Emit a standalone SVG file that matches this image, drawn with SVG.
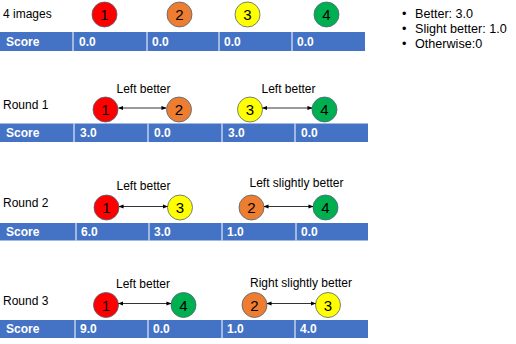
<svg xmlns="http://www.w3.org/2000/svg" width="516" height="344" viewBox="0 0 516 344">
<style>
text{font-family:"Liberation Sans",Arial,sans-serif;fill:#000}
.lbl{font-size:12px}
.leg{font-size:12.6px}
.num{font-size:15px;text-anchor:middle}
.c{stroke:#4d6277;stroke-width:0.8}
.red{fill:#ff0000}.org{fill:#ed7d31}.yel{fill:#ffff00}.grn{fill:#00b050}
.bar{fill:#4472c4}
.div{stroke:#ffffff;stroke-width:1}
.st{font-size:12px;font-weight:bold;fill:#ffffff}
.ed{font-size:12px;text-anchor:middle}
.arr{stroke:#000;stroke-width:0.8;fill:none;marker-start:url(#ah);marker-end:url(#ah)}
</style>
<defs>
<marker id="ah" viewBox="0 0 6 6" refX="5.5" refY="3" markerWidth="5" markerHeight="5" orient="auto-start-reverse" markerUnits="userSpaceOnUse">
<path d="M0,0.5 L6,3 L0,5.5 Z" fill="#000"/>
</marker>
</defs>
<rect width="516" height="344" fill="#ffffff"/>

<g id="legend">
<text class="leg" x="402" y="18">•</text><text class="leg" x="415" y="18">Better: 3.0</text>
<text class="leg" x="402" y="33">•</text><text class="leg" x="415" y="33">Slight better: 1.0</text>
<text class="leg" x="402" y="47.5">•</text><text class="leg" x="415" y="47.5">Otherwise:0</text>
</g>

<g id="row0">
<text class="lbl" x="3" y="17.5">4 images</text>
<g id="r0n1"><circle class="c red" cx="104.5" cy="14.5" r="12.5"/><text class="num" x="104.5" y="20">1</text></g>
<g id="r0n2"><circle class="c org" cx="179.5" cy="14.5" r="12.5"/><text class="num" x="179.5" y="20">2</text></g>
<g id="r0n3"><circle class="c yel" cx="247.5" cy="14.5" r="12.5"/><text class="num" x="247.5" y="20">3</text></g>
<g id="r0n4"><circle class="c grn" cx="326.5" cy="14.5" r="12.5"/><text class="num" x="326.5" y="20">4</text></g>
<g id="r0table">
<rect class="bar" x="0" y="32" width="365" height="19"/>
<line class="div" x1="73" y1="32" x2="73" y2="51"/><line class="div" x1="147" y1="32" x2="147" y2="51"/><line class="div" x1="219" y1="32" x2="219" y2="51"/><line class="div" x1="292" y1="32" x2="292" y2="51"/>
<text class="st" x="6" y="45.5">Score</text><text class="st" x="79" y="45.5">0.0</text><text class="st" x="152" y="45.5">0.0</text><text class="st" x="224" y="45.5">0.0</text><text class="st" x="297" y="45.5">0.0</text>
</g>
</g>

<g id="row1">
<text class="lbl" x="3" y="109">Round 1</text>
<g id="r1n1"><circle class="c red" cx="105.5" cy="109.5" r="12.5"/><text class="num" x="105.5" y="115">1</text></g>
<g id="r1n2"><circle class="c org" cx="179" cy="109.5" r="12.5"/><text class="num" x="179" y="115">2</text></g>
<g id="r1n3"><circle class="c yel" cx="250" cy="109.5" r="12.5"/><text class="num" x="250" y="115">3</text></g>
<g id="r1n4"><circle class="c grn" cx="324.5" cy="109.5" r="12.5"/><text class="num" x="324.5" y="115">4</text></g>
<text class="ed" x="143.5" y="93">Left better</text>
<text class="ed" x="288.5" y="93">Left better</text>
<g id="r1table">
<rect class="bar" x="0" y="123.5" width="368" height="18.5"/>
<line class="div" x1="74" y1="123.5" x2="74" y2="142"/><line class="div" x1="148" y1="123.5" x2="148" y2="142"/><line class="div" x1="222" y1="123.5" x2="222" y2="142"/><line class="div" x1="295" y1="123.5" x2="295" y2="142"/>
<text class="st" x="6" y="137">Score</text><text class="st" x="80" y="137">3.0</text><text class="st" x="154" y="137">0.0</text><text class="st" x="228" y="137">3.0</text><text class="st" x="301" y="137">0.0</text>
</g>
</g>

<g id="row2">
<text class="lbl" x="3" y="207">Round 2</text>
<g id="r2n1"><circle class="c red" cx="106.5" cy="207.5" r="12.5"/><text class="num" x="106.5" y="213">1</text></g>
<g id="r2n3"><circle class="c yel" cx="180" cy="207.5" r="12.5"/><text class="num" x="180" y="213">3</text></g>
<g id="r2n2"><circle class="c org" cx="251.5" cy="207.5" r="12.5"/><text class="num" x="251.5" y="213">2</text></g>
<g id="r2n4"><circle class="c grn" cx="325.5" cy="207.5" r="12.5"/><text class="num" x="325.5" y="213">4</text></g>
<text class="ed" x="143.5" y="190">Left better</text>
<text class="ed" x="296.5" y="187">Left slightly better</text>
<g id="r2table">
<rect class="bar" x="0" y="223" width="368" height="17.5"/>
<line class="div" x1="76" y1="223" x2="76" y2="240.5"/><line class="div" x1="149" y1="223" x2="149" y2="240.5"/><line class="div" x1="222" y1="223" x2="222" y2="240.5"/><line class="div" x1="296" y1="223" x2="296" y2="240.5"/>
<text class="st" x="6" y="236">Score</text><text class="st" x="81" y="236">6.0</text><text class="st" x="154" y="236">3.0</text><text class="st" x="227" y="236">1.0</text><text class="st" x="301" y="236">0.0</text>
</g>
</g>

<g id="row3">
<text class="lbl" x="3" y="305">Round 3</text>
<g id="r3n1"><circle class="c red" cx="106" cy="305" r="12.5"/><text class="num" x="106" y="310.5">1</text></g>
<g id="r3n4"><circle class="c grn" cx="183.5" cy="305" r="12.5"/><text class="num" x="183.5" y="310.5">4</text></g>
<g id="r3n2"><circle class="c org" cx="254.5" cy="305" r="12.5"/><text class="num" x="254.5" y="310.5">2</text></g>
<g id="r3n3"><circle class="c yel" cx="328" cy="305" r="12.5"/><text class="num" x="328" y="310.5">3</text></g>
<text class="ed" x="143" y="288">Left better</text>
<text class="ed" x="301" y="287">Right slightly better</text>
<g id="r3table">
<rect class="bar" x="0" y="320" width="368" height="18"/>
<line class="div" x1="75" y1="320" x2="75" y2="338"/><line class="div" x1="148" y1="320" x2="148" y2="338"/><line class="div" x1="222" y1="320" x2="222" y2="338"/><line class="div" x1="295" y1="320" x2="295" y2="338"/>
<text class="st" x="6" y="333">Score</text><text class="st" x="80" y="333">9.0</text><text class="st" x="153" y="333">0.0</text><text class="st" x="227" y="333">1.0</text><text class="st" x="300" y="333">4.0</text>
</g>
</g>

<g id="connectors">
<line class="arr" x1="118.5" y1="108" x2="166" y2="108"/>
<line class="arr" x1="262.5" y1="108" x2="312" y2="108"/>
<line class="arr" x1="119" y1="206.5" x2="167.5" y2="206.5"/>
<line class="arr" x1="264" y1="206.5" x2="313" y2="206.5"/>
<line class="arr" x1="118.5" y1="303.5" x2="171" y2="303.5"/>
<line class="arr" x1="267" y1="303.5" x2="315.5" y2="303.5"/>
</g>
</svg>
